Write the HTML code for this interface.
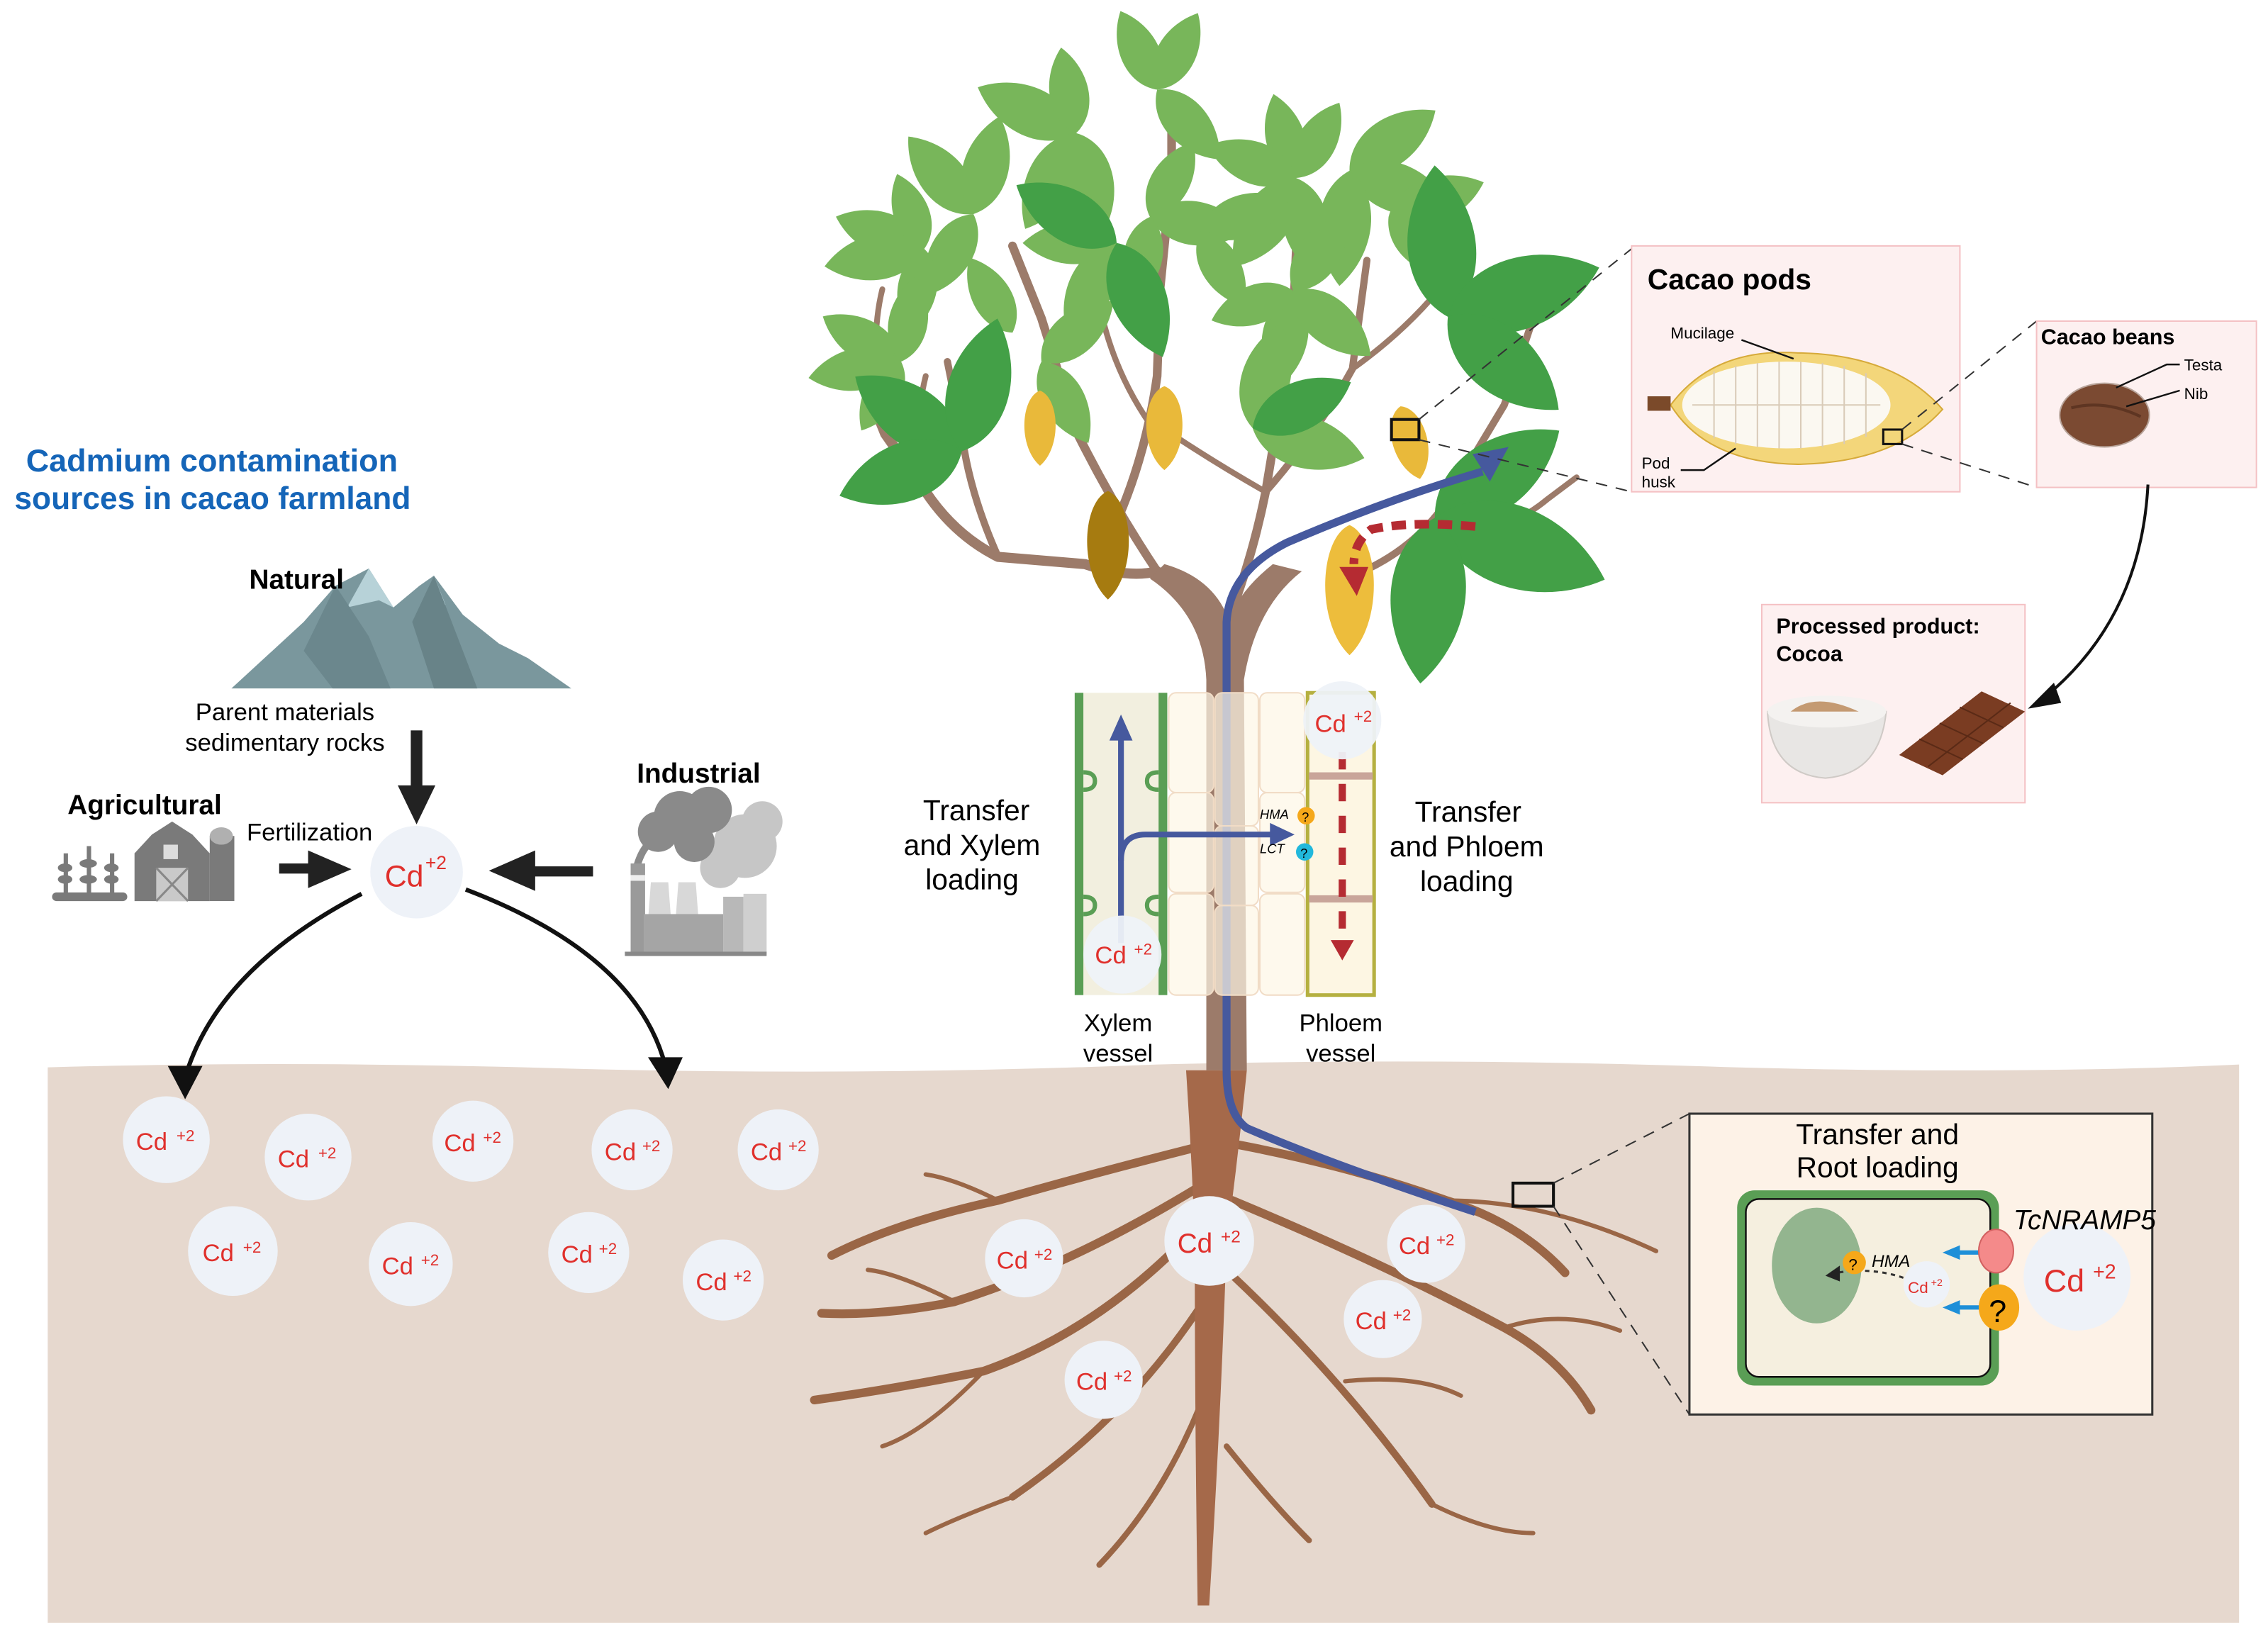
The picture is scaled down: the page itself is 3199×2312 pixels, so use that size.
<!DOCTYPE html>
<html><head><meta charset="utf-8"><style>
html,body{margin:0;padding:0;background:#fff;}
svg{display:block;}
text{font-family:"Liberation Sans",sans-serif;}
</style></head><body>
<svg width="3199" height="2312" viewBox="0 0 1568 1133.2" xmlns="http://www.w3.org/2000/svg">
<defs>
<path id="lf" d="M0,0 C10,-15 34,-15 50,0 C34,15 10,15 0,0Z"/>
<path id="pod" d="M0,-50 C30,-40 34,25 0,50 C-34,25 -30,-40 0,-50Z"/>
</defs>

<!-- soil -->
<path d="M33,738 Q200,733 400,739 Q600,744 800,736 Q1000,731 1200,738 Q1400,743 1548,736 L1548,1122 L33,1122Z" fill="#e6d8ce"/>

<!-- title -->
<text x="18" y="326" font-size="22" font-weight="bold" fill="#1565b8" textLength="257" lengthAdjust="spacingAndGlyphs">Cadmium contamination</text>
<text x="10" y="352" font-size="22" font-weight="bold" fill="#1565b8" textLength="274" lengthAdjust="spacingAndGlyphs">sources in cacao farmland</text>

<!-- Natural -->
<polygon points="160,476 210,430 232,405 255,393 272,420 290,405 300,398 320,425 345,445 365,455 395,476" fill="#7a979d"/>
<polygon points="255,393 240,420 262,415 272,420" fill="#b7d2d8"/>
<polygon points="300,398 290,420 308,418" fill="#b7d2d8"/>
<polygon points="232,405 255,440 270,476 230,476 210,450" fill="#6b878d"/>
<polygon points="300,398 330,476 300,476 285,430" fill="#688388"/>
<text x="205" y="407" font-size="19" font-weight="bold" text-anchor="middle">Natural</text>
<text x="197" y="498" font-size="17" text-anchor="middle">Parent materials</text>
<text x="197" y="519" font-size="17" text-anchor="middle">sedimentary rocks</text>
<rect x="284" y="505" width="8" height="40" fill="#222"/>
<polygon points="275,543 301,543 288,570" fill="#222"/>

<!-- Agricultural -->
<text x="100" y="563" font-size="19" font-weight="bold" text-anchor="middle">Agricultural</text>
<g fill="#7a7a7a">
<rect x="36" y="617" width="52" height="6" rx="3"/>
<rect x="44" y="590" width="3" height="28"/><rect x="60" y="585" width="3" height="33"/><rect x="76" y="590" width="3" height="28"/>
<ellipse cx="45" cy="600" rx="5" ry="3"/><ellipse cx="61" cy="597" rx="6" ry="3"/><ellipse cx="77" cy="600" rx="5" ry="3"/>
<ellipse cx="45" cy="608" rx="5" ry="3"/><ellipse cx="61" cy="608" rx="6" ry="3"/><ellipse cx="77" cy="608" rx="5" ry="3"/>
<polygon points="93,623 93,590 105,577 119,568 133,577 145,590 145,623"/>
<rect x="145" y="578" width="17" height="45"/><ellipse cx="153" cy="578" rx="8" ry="6" fill="#b0b0b0"/>
</g>
<rect x="108" y="600" width="22" height="23" fill="#c9c9c9"/>
<path d="M108,600 L130,623 M130,600 L108,623" stroke="#888" stroke-width="1.5"/>
<rect x="113" y="584" width="10" height="10" fill="#ddd"/>
<text x="214" y="581" font-size="17" text-anchor="middle">Fertilization</text>
<rect x="193" y="597" width="22" height="7" fill="#222"/>
<polygon points="213,588 213,614 243,601" fill="#222"/>

<!-- Industrial -->
<text x="483" y="541" font-size="19" font-weight="bold" text-anchor="middle">Industrial</text>
<g>
<circle cx="515" cy="585" r="22" fill="#c6c6c6"/><circle cx="527" cy="568" r="14" fill="#c6c6c6"/><circle cx="498" cy="600" r="14" fill="#c6c6c6"/>
<circle cx="470" cy="565" r="18" fill="#8a8a8a"/><circle cx="490" cy="560" r="16" fill="#8a8a8a"/><circle cx="455" cy="575" r="14" fill="#8a8a8a"/><circle cx="480" cy="582" r="14" fill="#8a8a8a"/>
<path d="M440,600 Q445,582 455,580" stroke="#8a8a8a" stroke-width="5" fill="none"/>
<rect x="436" y="597" width="10" height="63" fill="#9a9a9a"/>
<rect x="436" y="605" width="10" height="4" fill="#eee"/>
<polygon points="450,610 462,610 465,650 447,650" fill="#d8d8d8"/>
<polygon points="469,610 481,610 484,650 466,650" fill="#d8d8d8"/>
<rect x="445" y="632" width="55" height="28" fill="#a5a5a5"/>
<rect x="500" y="620" width="14" height="40" fill="#b8b8b8"/>
<rect x="514" y="618" width="16" height="42" fill="#cfcfcf"/>
<rect x="432" y="658" width="98" height="3" fill="#888"/>
</g>
<rect x="366" y="599" width="44" height="7" fill="#222"/>
<polygon points="370,588 370,616 338,602" fill="#222"/>

<!-- center Cd -->
<circle cx="288" cy="603" r="32" fill="#eef2f8"/>
<text x="266" y="613" font-size="21" fill="#e0302c">Cd</text><text x="294" y="601" font-size="13" fill="#e0302c">+2</text>

<!-- curved arrows -->
<path d="M250,618 Q150,670 128,745" stroke="#111" stroke-width="3" fill="none"/>
<polygon points="116,737 140,737 128,760" fill="#111"/>
<path d="M322,615 Q440,660 460,737" stroke="#111" stroke-width="3" fill="none"/>
<polygon points="448,731 472,731 462,753" fill="#111"/>

<!-- soil Cd -->
<g font-size="17" fill="#e0302c">
<circle cx="115" cy="788" r="30" fill="#eef2f8"/><text x="94" y="795">Cd</text><text x="122" y="789" font-size="11">+2</text>
<circle cx="213" cy="800" r="30" fill="#eef2f8"/><text x="192" y="807">Cd</text><text x="220" y="801" font-size="11">+2</text>
<circle cx="327" cy="789" r="28" fill="#eef2f8"/><text x="307" y="796">Cd</text><text x="334" y="790" font-size="11">+2</text>
<circle cx="437" cy="795" r="28" fill="#eef2f8"/><text x="418" y="802">Cd</text><text x="444" y="796" font-size="11">+2</text>
<circle cx="538" cy="795" r="28" fill="#eef2f8"/><text x="519" y="802">Cd</text><text x="545" y="796" font-size="11">+2</text>
<circle cx="161" cy="865" r="31" fill="#eef2f8"/><text x="140" y="872">Cd</text><text x="168" y="866" font-size="11">+2</text>
<circle cx="284" cy="874" r="29" fill="#eef2f8"/><text x="264" y="881">Cd</text><text x="291" y="875" font-size="11">+2</text>
<circle cx="407" cy="866" r="28" fill="#eef2f8"/><text x="388" y="873">Cd</text><text x="414" y="867" font-size="11">+2</text>
<circle cx="500" cy="885" r="28" fill="#eef2f8"/><text x="481" y="892">Cd</text><text x="507" y="886" font-size="11">+2</text>
</g>

<!-- roots -->
<g stroke="#9a6646" fill="none" stroke-linecap="round">
<path d="M840,790 Q760,810 690,830 Q620,845 575,868" stroke-width="6"/>
<path d="M830,820 Q740,875 660,900 Q610,910 568,908" stroke-width="6"/>
<path d="M826,850 Q760,920 680,948 Q620,960 563,968" stroke-width="6"/>
<path d="M832,900 Q780,980 700,1035" stroke-width="5"/>
<path d="M838,950 Q810,1030 760,1082" stroke-width="4"/>
<path d="M848,790 Q930,805 1000,830 Q1050,845 1082,880" stroke-width="6"/>
<path d="M852,830 Q960,875 1040,918 Q1080,940 1100,975" stroke-width="6"/>
<path d="M850,880 Q930,955 990,1040" stroke-width="5"/>
<path d="M848,1000 Q880,1040 905,1065" stroke-width="4"/>
<path d="M1000,830 Q1070,830 1145,865" stroke-width="3"/>
<path d="M690,830 Q660,815 640,812 M660,900 Q620,880 600,878 M680,948 Q640,990 610,1000 M1040,918 Q1080,905 1120,920 M990,1040 Q1030,1060 1060,1060 M700,1035 Q660,1050 640,1060 M930,955 Q980,950 1010,965" stroke-width="3"/>
</g>
<path d="M820,740 L862,740 Q856,800 848,860 Q844,980 836,1110 L828,1110 Q826,980 826,860 Q824,800 820,740Z" fill="#a5694a"/>

<!-- trunk & branches -->
<g stroke="#9c7b6a" fill="none" stroke-linecap="round" stroke-linejoin="round">
<path d="M800,395 Q780,400 750,390 L690,385 Q660,370 640,340 L612,300 Q600,270 590,250" stroke-width="7"/>
<path d="M690,385 Q670,340 665,300 L655,250" stroke-width="5"/>
<path d="M800,395 Q770,350 745,300 L720,220 L700,170" stroke-width="6"/>
<path d="M760,385 Q790,330 800,260 L802,200 L810,120 L810,80" stroke-width="6"/>
<path d="M800,300 Q770,260 760,210" stroke-width="4"/>
<path d="M845,440 Q865,390 875,340 L885,280 L895,200 L898,130" stroke-width="6"/>
<path d="M875,340 Q910,300 935,255 L945,180" stroke-width="5"/>
<path d="M875,340 Q840,320 810,300" stroke-width="4"/>
<path d="M930,400 Q985,380 1010,330 L1040,280 L1060,220" stroke-width="5"/>
<path d="M985,380 Q1040,370 1070,345 L1090,330" stroke-width="4"/>
<path d="M935,255 Q970,230 995,200" stroke-width="4"/>
<path d="M612,300 Q600,240 610,200" stroke-width="4"/>
<path d="M640,340 Q630,300 640,260" stroke-width="4"/>
</g>
<path d="M834,740 L862,740 L860,470 Q868,420 900,395 L880,390 Q855,410 850,430 Q840,400 805,390 L795,400 Q832,425 834,470Z" fill="#9c7b6a"/>

<!-- leaves -->
<g fill="#78b65a">
<use href="#lf" transform="translate(800,62) rotate(-115) scale(1.2)"/>
<use href="#lf" transform="translate(800,62) rotate(-62) scale(1.2)"/>
<use href="#lf" transform="translate(800,62) rotate(48) scale(1.3)"/>
<use href="#lf" transform="translate(744,92) rotate(-155) scale(1.5)"/>
<use href="#lf" transform="translate(744,92) rotate(118) scale(1.5)"/>
<use href="#lf" transform="translate(744,92) rotate(72) scale(1.35)"/>
<use href="#lf" transform="translate(744,92) rotate(-100) scale(1.2)"/>
<use href="#lf" transform="translate(673,148) rotate(-130) scale(1.4)"/>
<use href="#lf" transform="translate(673,148) rotate(-75) scale(1.4)"/>
<use href="#lf" transform="translate(673,148) rotate(120) scale(1.3)"/>
<use href="#lf" transform="translate(639,172) rotate(-160) scale(1.3)"/>
<use href="#lf" transform="translate(639,172) rotate(-110) scale(1.1)"/>
<use href="#lf" transform="translate(639,172) rotate(170) scale(1.4)"/>
<use href="#lf" transform="translate(639,172) rotate(100) scale(1.2)"/>
<use href="#lf" transform="translate(623,250) rotate(-150) scale(1.25)"/>
<use href="#lf" transform="translate(623,250) rotate(170) scale(1.3)"/>
<use href="#lf" transform="translate(623,250) rotate(-80) scale(1.2)"/>
<use href="#lf" transform="translate(623,250) rotate(120) scale(1.1)"/>
<use href="#lf" transform="translate(772,168) rotate(120) scale(1.4)"/>
<use href="#lf" transform="translate(772,168) rotate(180) scale(1.3)"/>
<use href="#lf" transform="translate(795,150) rotate(-60) scale(1.2)"/>
<use href="#lf" transform="translate(795,150) rotate(8) scale(1.35)"/>
<use href="#lf" transform="translate(795,150) rotate(100) scale(1.2)"/>
<use href="#lf" transform="translate(896,123) rotate(-105) scale(1.2)"/>
<use href="#lf" transform="translate(896,123) rotate(-60) scale(1.2)"/>
<use href="#lf" transform="translate(896,123) rotate(-160) scale(1.3)"/>
<use href="#lf" transform="translate(896,123) rotate(125) scale(1.5)"/>
<use href="#lf" transform="translate(896,123) rotate(78) scale(1.4)"/>
<use href="#lf" transform="translate(933,118) rotate(-35) scale(1.45)"/>
<use href="#lf" transform="translate(933,118) rotate(20) scale(1.5)"/>
<use href="#lf" transform="translate(933,118) rotate(95) scale(1.6)"/>
<use href="#lf" transform="translate(894,201) rotate(-55) scale(1.3)"/>
<use href="#lf" transform="translate(894,201) rotate(100) scale(1.4)"/>
<use href="#lf" transform="translate(894,201) rotate(40) scale(1.4)"/>
<use href="#lf" transform="translate(894,201) rotate(160) scale(1.2)"/>
<use href="#lf" transform="translate(866,296) rotate(-75) scale(1.5)"/>
<use href="#lf" transform="translate(866,296) rotate(15) scale(1.6)"/>
<use href="#lf" transform="translate(830,160) rotate(-20) scale(1.3)"/>
<use href="#lf" transform="translate(830,160) rotate(60) scale(1.2)"/>
<use href="#lf" transform="translate(960,150) rotate(-20) scale(1.4)"/>
<use href="#lf" transform="translate(960,150) rotate(40) scale(1.3)"/>
<use href="#lf" transform="translate(720,250) rotate(-40) scale(1.3)"/>
<use href="#lf" transform="translate(720,250) rotate(60) scale(1.3)"/>
<use href="#lf" transform="translate(700,230) rotate(-120) scale(1.2)"/>
</g>
<g fill="#43a047">
<use href="#lf" transform="translate(665,312) rotate(-145) scale(1.8)"/>
<use href="#lf" transform="translate(665,312) rotate(160) scale(1.8)"/>
<use href="#lf" transform="translate(665,312) rotate(-75) scale(1.9)"/>
<use href="#lf" transform="translate(772,168) rotate(-150) scale(1.6)"/>
<use href="#lf" transform="translate(772,168) rotate(68) scale(1.7)"/>
<use href="#lf" transform="translate(866,296) rotate(-25) scale(1.5)"/>
<use href="#lf" transform="translate(1001,219) rotate(-95) scale(2.1)"/>
<use href="#lf" transform="translate(1001,219) rotate(-18) scale(2.2)"/>
<use href="#lf" transform="translate(1001,219) rotate(40) scale(2.0)"/>
<use href="#lf" transform="translate(992,358) rotate(-35) scale(2.1)"/>
<use href="#lf" transform="translate(992,358) rotate(20) scale(2.5)"/>
<use href="#lf" transform="translate(992,358) rotate(95) scale(2.3)"/>
</g>

<!-- pods -->
<use href="#pod" transform="translate(719,296) scale(0.45,0.52)" fill="#e9b93a"/>
<use href="#pod" transform="translate(805,296) scale(0.52,0.58)" fill="#e9b93a"/>
<use href="#pod" transform="translate(766,377) scale(0.6,0.75)" fill="#a67b10"/>
<use href="#pod" transform="translate(975,306) rotate(-15) scale(0.5,0.52)" fill="#e9b93a"/>
<use href="#pod" transform="translate(933,408) scale(0.7,0.9)" fill="#edbd3c"/>

<!-- blue & red paths in canopy -->
<path d="M1020,838 Q920,805 862,780 Q848,770 848,740 L848,430 Q850,395 890,375 Q960,345 1025,326" stroke="#46599e" stroke-width="5.5" fill="none" stroke-linejoin="round"/>
<polygon points="1018,314 1043,309 1030,333" fill="#46599e"/>
<path d="M1020,364 Q975,360 948,366 Q936,375 936,390" stroke="#b52b32" stroke-width="6" fill="none" stroke-dasharray="10,6"/>
<polygon points="926,392 946,392 938,412" fill="#b52b32"/>

<!-- pod zoom rect and dashed lines -->
<rect x="962" y="290" width="19" height="14" fill="none" stroke="#111" stroke-width="2"/>
<path d="M981,290 L1128,172 M981,304 L1128,340" stroke="#333" stroke-width="1" stroke-dasharray="8,6" fill="none"/>

<!-- xylem/phloem panel -->
<g>
<rect x="743" y="479" width="64" height="209" fill="#f2efdf"/>
<rect x="743" y="479" width="6" height="209" fill="#5a9e55"/>
<rect x="801" y="479" width="6" height="209" fill="#5a9e55"/>
<path d="M749,534 Q757,534 757,540 Q757,546 749,546 M801,534 Q793,534 793,540 Q793,546 801,546 M749,620 Q757,620 757,626 Q757,632 749,632 M801,620 Q793,620 793,626 Q793,632 801,632" stroke="#5a9e55" stroke-width="3" fill="none"/>
<g fill="#fdf6e6" fill-opacity="0.7" stroke="#f1dcc6" stroke-width="1">
<rect x="808" y="479" width="31" height="69" rx="5"/><rect x="808" y="548" width="31" height="69" rx="5"/><rect x="808" y="618" width="31" height="70" rx="5"/>
<rect x="840" y="479" width="30" height="92" rx="5"/><rect x="840" y="571" width="30" height="55" rx="5"/><rect x="840" y="626" width="30" height="62" rx="5"/>
<rect x="871" y="479" width="31" height="69" rx="5"/><rect x="871" y="548" width="31" height="69" rx="5"/><rect x="871" y="618" width="31" height="70" rx="5"/>
</g>
<rect x="904" y="479" width="46" height="209" fill="#fdf6e3" stroke="#b5b040" stroke-width="2.5"/>
<rect x="905" y="534" width="44" height="5" fill="#c9a59a"/>
<rect x="905" y="619" width="44" height="5" fill="#c9a59a"/>
</g>
<path d="M775,652 L775,510" stroke="#46599e" stroke-width="4"/>
<polygon points="767,512 783,512 775,494" fill="#46599e"/>
<path d="M775,595 Q775,577 792,577 L880,577" stroke="#46599e" stroke-width="4" fill="none"/>
<polygon points="878,569 878,585 895,577" fill="#46599e"/>
<path d="M928,520 L928,650" stroke="#b52b32" stroke-width="5" stroke-dasharray="12,10"/>
<polygon points="920,650 936,650 928,664" fill="#b52b32"/>
<circle cx="776" cy="660" r="27" fill="#eef2f8" fill-opacity="0.95"/>
<text x="757" y="666" font-size="17" fill="#e0302c">Cd</text><text x="784" y="660" font-size="11" fill="#e0302c">+2</text>
<circle cx="928" cy="498" r="27" fill="#eef2f8" fill-opacity="0.95"/>
<text x="909" y="506" font-size="17" fill="#e0302c">Cd</text><text x="936" y="499" font-size="11" fill="#e0302c">+2</text>
<text x="871" y="566" font-size="9" font-style="italic">HMA</text>
<circle cx="903" cy="564" r="6" fill="#f5a81a"/><text x="900" y="568" font-size="9">?</text>
<text x="871" y="590" font-size="9" font-style="italic">LCT</text>
<circle cx="902" cy="589" r="6" fill="#21b8dc"/><text x="899" y="593" font-size="9">?</text>

<g font-size="20" text-anchor="middle">
<text x="675" y="567">Transfer</text><text x="672" y="591">and Xylem</text><text x="672" y="615">loading</text>
<text x="1015" y="568">Transfer</text><text x="1014" y="592">and Phloem</text><text x="1014" y="616">loading</text>
</g>
<g font-size="17" text-anchor="middle">
<text x="773" y="713">Xylem</text><text x="773" y="734">vessel</text>
<text x="927" y="713">Phloem</text><text x="927" y="734">vessel</text>
</g>

<!-- root Cd -->
<g font-size="17" fill="#e0302c">
<circle cx="708" cy="870" r="27" fill="#eef2f8"/><text x="689" y="877">Cd</text><text x="715" y="871" font-size="11">+2</text>
<circle cx="836" cy="858" r="31" fill="#eef2f8"/><text x="814" y="866" font-size="19">Cd</text><text x="844" y="859" font-size="12">+2</text>
<circle cx="986" cy="860" r="27" fill="#eef2f8"/><text x="967" y="867">Cd</text><text x="993" y="861" font-size="11">+2</text>
<circle cx="956" cy="912" r="27" fill="#eef2f8"/><text x="937" y="919">Cd</text><text x="963" y="913" font-size="11">+2</text>
<circle cx="763" cy="954" r="27" fill="#eef2f8"/><text x="744" y="961">Cd</text><text x="770" y="955" font-size="11">+2</text>
</g>

<!-- root zoom -->
<rect x="1046" y="818" width="28" height="16" fill="none" stroke="#111" stroke-width="2"/>
<path d="M1074,818 L1168,770 M1074,834 L1168,978" stroke="#333" stroke-width="1" stroke-dasharray="8,6"/>
<rect x="1168" y="770" width="320" height="208" fill="#fdf2e7" stroke="#333" stroke-width="1.5"/>
<text x="1298" y="791" font-size="20" text-anchor="middle">Transfer and</text>
<text x="1298" y="814" font-size="20" text-anchor="middle">Root loading</text>
<rect x="1201" y="823" width="181" height="135" rx="12" fill="#5a9e55"/>
<rect x="1207" y="829" width="169" height="123" rx="9" fill="#f5efdf" stroke="#111" stroke-width="1.2"/>
<ellipse cx="1256" cy="875" rx="31" ry="40" fill="#93b58f"/>
<path d="M1327,888 Q1300,875 1270,880" stroke="#333" stroke-width="1.5" stroke-dasharray="3,3" fill="none"/>
<polygon points="1262,882 1272,875 1272,886" fill="#222"/>
<circle cx="1282" cy="873" r="8" fill="#f5a81a"/><text x="1278" y="878" font-size="11">?</text>
<text x="1294" y="876" font-size="12" font-style="italic">HMA</text>
<circle cx="1332" cy="888" r="16" fill="#eef2f8"/><text x="1319" y="894" font-size="11" fill="#e0302c">Cd</text><text x="1335" y="889" font-size="7" fill="#e0302c">+2</text>
<path d="M1370,866 L1352,866" stroke="#1e8fd8" stroke-width="3"/><polygon points="1355,861 1355,871 1343,866" fill="#1e8fd8"/>
<path d="M1370,904 L1352,904" stroke="#1e8fd8" stroke-width="3"/><polygon points="1355,899 1355,909 1343,904" fill="#1e8fd8"/>
<ellipse cx="1380" cy="865" rx="12" ry="15" fill="#f48a8a" stroke="#d26060"/>
<ellipse cx="1382" cy="904" rx="14" ry="16" fill="#f5a81a"/>
<text x="1375" y="914" font-size="22">?</text>
<circle cx="1436" cy="883" r="37" fill="#eef2f8"/>
<text x="1413" y="893" font-size="22" fill="#e0302c">Cd</text><text x="1447" y="884" font-size="14" fill="#e0302c">+2</text>
<text x="1392" y="850" font-size="19" font-style="italic">TcNRAMP5</text>

<!-- cacao pods panel -->
<rect x="1128" y="170" width="227" height="170" fill="#fdf0f0" stroke="#f4c1c4" stroke-width="1"/>
<text x="1139" y="200" font-size="20" font-weight="bold">Cacao pods</text>
<path d="M1155,280 Q1185,240 1243,244 Q1310,245 1343,283 Q1310,320 1243,321 Q1180,320 1155,280Z" fill="#f3d67a" stroke="#d6aa3a" stroke-width="1"/>
<rect x="1139" y="274" width="16" height="10" fill="#7b4a2a"/>
<ellipse cx="1235" cy="280" rx="72" ry="30" fill="#fbf8f1"/>
<g stroke="#d9cbb8" stroke-width="1" fill="none">
<path d="M1170,280 L1300,280 M1185,257 L1185,303 M1200,253 L1200,307 M1215,251 L1215,309 M1230,250 L1230,310 M1245,250 L1245,310 M1260,251 L1260,309 M1275,253 L1275,307 M1290,258 L1290,302"/>
</g>
<text x="1155" y="234" font-size="11">Mucilage</text>
<path d="M1204,235 L1240,248" stroke="#111" stroke-width="1.2"/>
<text x="1135" y="324" font-size="11">Pod</text><text x="1135" y="337" font-size="11">husk</text>
<path d="M1162,325 L1178,325 L1200,310" stroke="#111" stroke-width="1.2" fill="none"/>
<rect x="1302" y="297" width="13" height="10" fill="none" stroke="#111" stroke-width="1.5"/>
<path d="M1315,297 L1408,222 M1315,307 L1408,337" stroke="#333" stroke-width="1" stroke-dasharray="8,6"/>

<!-- beans panel -->
<rect x="1408" y="222" width="152" height="115" fill="#fdf0f0" stroke="#f4c1c4" stroke-width="1"/>
<text x="1411" y="238" font-size="15" font-weight="bold">Cacao beans</text>
<ellipse cx="1455" cy="287" rx="31" ry="22" fill="#7b4a32" stroke="#b8a49a" stroke-width="1"/>
<path d="M1432,282 Q1455,276 1480,288" stroke="#5e3522" stroke-width="2" fill="none"/>
<text x="1510" y="256" font-size="11">Testa</text><text x="1510" y="276" font-size="11">Nib</text>
<path d="M1507,252 L1498,252 L1463,268 M1507,270 L1470,281" stroke="#111" stroke-width="1.2" fill="none"/>
<path d="M1485,335 Q1480,430 1410,485" stroke="#111" stroke-width="2" fill="none"/>
<polygon points="1402,490 1420,472 1425,486" fill="#111"/>

<!-- processed panel -->
<rect x="1218" y="418" width="182" height="137" fill="#fdf0f0" stroke="#f4c1c4" stroke-width="1"/>
<text x="1228" y="438" font-size="15" font-weight="bold">Processed product:</text>
<text x="1228" y="457" font-size="15" font-weight="bold">Cocoa</text>
<path d="M1222,492 Q1224,535 1262,538 Q1300,535 1304,492Z" fill="#e8e6e4" stroke="#cfcac6"/>
<ellipse cx="1263" cy="492" rx="41" ry="11" fill="#f4f2f0"/>
<path d="M1238,492 Q1255,478 1285,492Z" fill="#c49a72"/>
<polygon points="1313,522 1370,478 1400,492 1343,536" fill="#7a3c22"/>
<g stroke="#5a2a16" stroke-width="1"><path d="M1327,511 L1357,525 M1341,500 L1371,514 M1355,489 L1385,503 M1333,530 L1390,486"/></g>
</svg>
</body></html>
